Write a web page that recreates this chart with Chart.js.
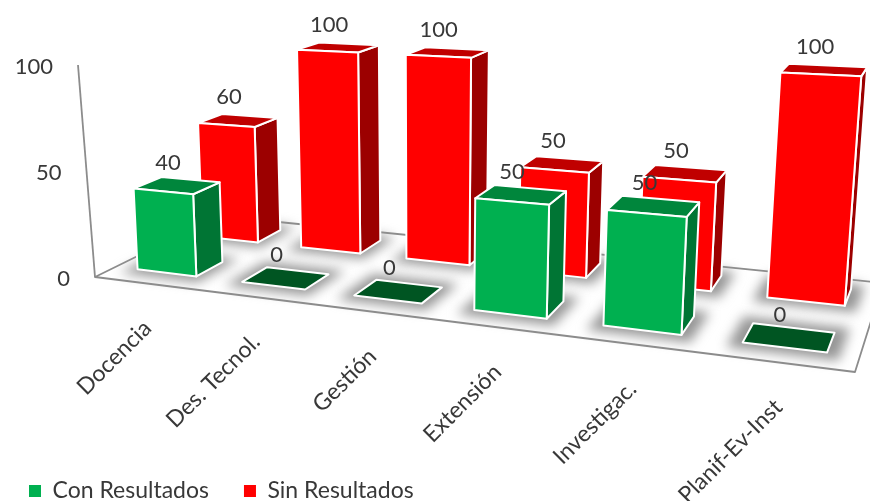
<!DOCTYPE html>
<html>
<head>
<meta charset="utf-8">
<title>Con / Sin Resultados</title>
<script src="https://cdn.jsdelivr.net/npm/chart.js@4/dist/chart.umd.min.js"></script>
<style>
  html, body { margin: 0; padding: 0; background: #fff; overflow: hidden; }
  canvas { display: block; }
</style>
</head>
<body>
<canvas id="chart" width="870" height="501"></canvas>
<script>
// Datos
const categories = ['Docencia', 'Des. Tecnol.', 'Gestión', 'Extensión', 'Investigac.', 'Planif-Ev-Inst'];
const conResultados = [40, 0, 0, 50, 50, 0];
const sinResultados = [60, 100, 100, 50, 50, 100];
const yTicks = [0, 50, 100];

// Escena 3D: esquinas del suelo en pantalla y punto de fuga vertical
const FLOOR = [[95, 277], [855, 372], [883, 283], [219, 216]];
const AXIS_TOP = [78, 65];
const VANISH = [425, 6130];
const RISE = -0.0345;
const ROWS = [[0.15, 0.36], [0.67, 0.88]];  // profundidad de cada serie
const NUM_FONT = '22px Lato, sans-serif';
const CAT_FONT = '23px Lato, sans-serif';
const TEXT = '#383838';
const GREY = '#8c8c8c';
const LEGEND_PAD = 35;
const FACES = [
  { front: '#00b050', top: '#00863c', side: '#007534', flat: '#005522' },
  { front: '#ff0000', top: '#c00000', side: '#9c0000', flat: '#9c0000' }
];

// Homografía del cuadrado unidad hacia el suelo
const H = (() => {
  const [[x0, y0], [x1, y1], [x2, y2], [x3, y3]] = FLOOR;
  const dx1 = x1 - x2, dx2 = x3 - x2, dx3 = x0 - x1 + x2 - x3;
  const dy1 = y1 - y2, dy2 = y3 - y2, dy3 = y0 - y1 + y2 - y3;
  const den = dx1 * dy2 - dx2 * dy1;
  const g = (dx3 * dy2 - dx2 * dy3) / den;
  const h = (dx1 * dy3 - dx3 * dy1) / den;
  return { a: x1 - x0 + g * x1, b: x3 - x0 + h * x3, c: x0,
           d: y1 - y0 + g * y1, e: y3 - y0 + h * y3, f: y0, g, h };
})();

// u: posición horizontal 0..1, d: profundidad 0..1, t: altura 0..1
function project(u, d, t) {
  const s = RISE * t;
  const w = H.g * u + H.h * d + 1;
  return [(H.a * u + H.b * d + H.c + s * VANISH[0]) / (w + s),
          (H.d * u + H.e * d + H.f + s * VANISH[1]) / (w + s)];
}

function poly(ctx, pts) {
  ctx.beginPath();
  pts.forEach((p, i) => i ? ctx.lineTo(p[0], p[1]) : ctx.moveTo(p[0], p[1]));
  ctx.closePath();
}

function face(ctx, pts, color) {
  poly(ctx, pts);
  ctx.fillStyle = color;
  ctx.fill();
  ctx.stroke();
}

const scene3d = {
  id: 'scene3d',
  beforeDraw(chart) {
    // la leyenda va pegada abajo a la izquierda
    chart.legend.left = 29 - LEGEND_PAD;
    chart.legend.top = 491 - LEGEND_PAD - 11.5;
  },
  beforeDatasetsDraw(chart) {
    const ctx = chart.ctx;
    const area = chart.chartArea;
    const yScale = chart.scales.y;
    const frac = v => (yScale.bottom - yScale.getPixelForValue(v)) / yScale.height;
    const axisAt = t => [FLOOR[0][0] + (AXIS_TOP[0] - FLOOR[0][0]) * t,
                         FLOOR[0][1] + (AXIS_TOP[1] - FLOOR[0][1]) * t];

    // cajas a partir de los elementos de barra de Chart.js
    const boxes = [0, 1].map(ds => chart.getDatasetMeta(ds).data.map((bar, i) => ({
      ds,
      value: chart.data.datasets[ds].data[i],
      u0: (bar.x - bar.width / 2 - area.left) / area.width,
      u1: (bar.x + bar.width / 2 - area.left) / area.width,
      t: (bar.base - bar.y) / yScale.height
    })));

    ctx.save();
    ctx.lineJoin = 'round';

    // suelo
    ctx.strokeStyle = GREY;
    ctx.lineWidth = 1.8;
    poly(ctx, [0, 1, 2, 3].map(i => project(i === 1 || i === 2 ? 1 : 0, i > 1 ? 1 : 0, 0)));
    ctx.fillStyle = '#fff';
    ctx.fill();
    ctx.stroke();

    // eje vertical
    const axisTop = axisAt(frac(100));
    ctx.beginPath();
    ctx.moveTo(FLOOR[0][0], FLOOR[0][1]);
    ctx.lineTo(axisTop[0], axisTop[1]);
    ctx.stroke();

    // sombras difusas sobre el suelo
    boxes.flat().forEach(b => {
      const [d0, d1] = ROWS[b.ds];
      const mu = 0.015, md = 0.065;
      ctx.save();
      ctx.filter = 'blur(6px)';
      ctx.fillStyle = 'rgb(150,150,150)';
      poly(ctx, [project(b.u0 - mu, d0 - md, 0), project(b.u1 + mu, d0 - md, 0),
                 project(b.u1 + mu, d1 + md, 0), project(b.u0 - mu, d1 + md, 0)]);
      ctx.fill();
      ctx.restore();
    });

    // barras: primero la fila de atrás
    ctx.strokeStyle = '#fff';
    ctx.lineWidth = 2;
    [boxes[1], boxes[0]].forEach(row => row.forEach(b => {
      const [d0, d1] = ROWS[b.ds];
      const col = FACES[b.ds];
      const p = project;
      if (b.value > 0) {
        face(ctx, [p(b.u1, d0, 0), p(b.u1, d1, 0), p(b.u1, d1, b.t), p(b.u1, d0, b.t)], col.side);
        face(ctx, [p(b.u0, d0, b.t), p(b.u1, d0, b.t), p(b.u1, d1, b.t), p(b.u0, d1, b.t)], col.top);
        face(ctx, [p(b.u0, d0, 0), p(b.u1, d0, 0), p(b.u1, d0, b.t), p(b.u0, d0, b.t)], col.front);
      } else {
        face(ctx, [p(b.u0, d0, 0), p(b.u1, d0, 0), p(b.u1, d1, 0), p(b.u0, d1, 0)], col.flat);
      }
    }));

    // textos
    ctx.fillStyle = TEXT;
    ctx.font = NUM_FONT;

    // etiquetas de valor
    ctx.textAlign = 'center';
    ctx.textBaseline = 'middle';
    boxes.flat().forEach(b => {
      const c = project((b.u0 + b.u1) / 2, (ROWS[b.ds][0] + ROWS[b.ds][1]) / 2, b.t);
      ctx.fillText(String(b.value), c[0] - 9, c[1] - 23);
    });

    // ticks del eje vertical
    ctx.textAlign = 'right';
    yTicks.forEach(v => {
      const c = axisAt(frac(v));
      ctx.fillText(String(v), c[0] - 25, c[1] + 2);
    });

    // categorías giradas bajo el borde frontal
    ctx.font = CAT_FONT;
    boxes[0].forEach((b, i) => {
      const c = project((b.u0 + b.u1) / 2, 0, 0);
      ctx.save();
      ctx.translate(c[0] + 1, c[1] + 41);
      ctx.rotate(-Math.PI / 4);
      ctx.fillText(categories[i], 0, 0);
      ctx.restore();
    });

    ctx.restore();
    return false;
  }
};

new Chart(document.getElementById('chart'), {
  type: 'bar',
  data: {
    labels: categories,
    datasets: [
      { label: 'Con Resultados', data: conResultados, backgroundColor: FACES[0].front },
      { label: 'Sin Resultados', data: sinResultados, backgroundColor: FACES[1].front }
    ]
  },
  options: {
    responsive: false,
    animation: false,
    grouped: false,
    categoryPercentage: 1,
    barPercentage: 0.57,
    plugins: {
      title: { display: false },
      tooltip: { enabled: false },
      legend: {
        position: 'bottom',
        align: 'start',
        labels: {
          boxWidth: 12,
          boxHeight: 12,
          padding: LEGEND_PAD,
          color: TEXT,
          font: { family: 'Lato, sans-serif', size: 23 }
        }
      }
    },
    scales: {
      x: { display: false },
      y: { display: false, min: 0, max: 100 }
    }
  },
  plugins: [scene3d]
});
</script>
</body>
</html>
